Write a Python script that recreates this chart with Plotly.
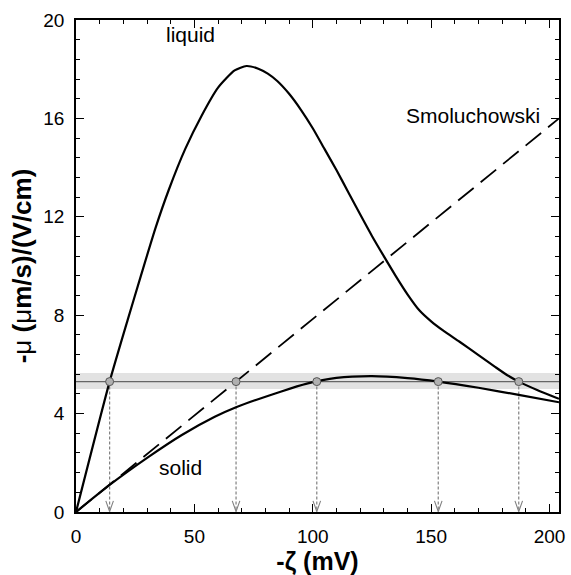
import plotly.graph_objects as go

# ---- data ----
liquid_x = [0, 14.2, 21.8, 27.4, 33.6, 39.2, 46.1, 53.0, 60.0, 67.0, 72.0, 77.0, 81.0, 85.0,
            90.0, 95.0, 100.0, 105.0, 110.0, 115.0, 120.0, 125.0, 130.0, 135.0, 140.0,
            145.0, 150.0, 155.0, 162.0, 170.0, 177.0, 182.0, 187.0, 195.0, 204.0]
liquid_y = [0, 5.3, 7.8, 9.6, 11.55, 13.1, 14.75, 16.1, 17.25, 17.95, 18.13, 18.02, 17.82, 17.52,
            17.0, 16.35, 15.6, 14.75, 13.9, 13.0, 12.1, 11.22, 10.4, 9.6, 8.85,
            8.2, 7.75, 7.38, 6.92, 6.38, 5.9, 5.57, 5.3, 4.95, 4.6]

solid_x = [0, 14.2, 30.8, 44.7, 58.6, 67.6, 86.4, 97.5, 110, 125, 140, 153, 170, 187, 204]
solid_y = [0, 1.10, 2.25, 3.13, 3.87, 4.26, 4.89, 5.22, 5.45, 5.52, 5.44, 5.30, 5.05, 4.76, 4.46]

smol_x = [0, 204]
smol_y = [0, 16.0]

level = 5.3
band_low, band_high = 5.0, 5.65
cross_x = [14.2, 67.6, 101.7, 153.0, 187.0]

x_range = [0, 204]
y_range = [0, 20]

FONT = "Liberation Sans, Arial, Helvetica, sans-serif"

fig = go.Figure()

# grey band and level line
fig.add_shape(type="rect", xref="x", yref="y", x0=x_range[0], x1=x_range[1],
              y0=band_low, y1=band_high, fillcolor="rgba(160,160,160,0.30)",
              line_width=0, layer="below")
fig.add_trace(go.Scatter(x=x_range, y=[level, level], mode="lines",
                         line=dict(color="#666666", width=1.4), hoverinfo="skip",
                         showlegend=False))

# vertical drop lines with open arrowheads
for cx in cross_x:
    fig.add_trace(go.Scatter(x=[cx, cx], y=[level, 0], mode="lines",
                             line=dict(color="#808080", width=1.2, dash="3px,2px"),
                             hoverinfo="skip", showlegend=False))
    fig.add_trace(go.Scatter(x=[cx - 1.6, cx, cx + 1.6], y=[0.45, 0.02, 0.45], mode="lines",
                             line=dict(color="#808080", width=1.1),
                             hoverinfo="skip", showlegend=False))

# curves
fig.add_trace(go.Scatter(x=smol_x, y=smol_y, mode="lines",
                         line=dict(color="black", width=1.8, dash="20px,9px"),
                         showlegend=False))
fig.add_trace(go.Scatter(x=liquid_x, y=liquid_y, mode="lines", line_shape="spline",
                         line=dict(color="black", width=2.2, smoothing=0.6),
                         showlegend=False))
fig.add_trace(go.Scatter(x=solid_x, y=solid_y, mode="lines", line_shape="spline",
                         line=dict(color="black", width=2.2, smoothing=0.6),
                         showlegend=False))

# intersection markers
fig.add_trace(go.Scatter(x=cross_x, y=[level] * len(cross_x), mode="markers",
                         marker=dict(symbol="circle", size=8, color="#b0b0b0",
                                     line=dict(color="#555555", width=1)),
                         showlegend=False))

# curve labels
lab_font = dict(family=FONT, size=21, color="black")
fig.add_annotation(x=48.5, y=19.4, text="liquid", showarrow=False, font=lab_font)
fig.add_annotation(x=197, y=16.1, text="Smoluchowski", showarrow=False,
                   xanchor="right", font=lab_font)
fig.add_annotation(x=44, y=1.8, text="solid", showarrow=False, font=lab_font)

axis_common = dict(showgrid=False, zeroline=False, showline=True, linecolor="black",
                   linewidth=1.5, mirror="ticks", ticks="inside", ticklen=8,
                   tickwidth=1.3, tickcolor="black",
                   tickfont=dict(family=FONT, size=19, color="black"))

fig.update_xaxes(range=x_range, tickmode="array", tickvals=[0, 50, 100, 150, 200],
                 ticklabelstandoff=6,
                 minor=dict(dtick=10, ticks="inside", ticklen=4, tickcolor="black", tickwidth=1),
                 title=dict(text="<b>-ζ (mV)</b>", font=dict(family=FONT, size=25, color="black"),
                            standoff=4),
                 **axis_common)
fig.update_yaxes(range=y_range, tickmode="array", tickvals=[0, 4, 8, 12, 16, 20],
                 ticklabelstandoff=6,
                 minor=dict(dtick=0.8, ticks="inside", ticklen=4, tickcolor="black", tickwidth=1),
                 title=dict(text="<b>-</b>μ<b> (</b>μ<b>m/s)/(V/cm)</b>",
                            font=dict(family=FONT, size=26, color="black"), standoff=4),
                 **axis_common)

fig.update_layout(width=571, height=575, margin=dict(l=76, r=6, t=20, b=63),
                  plot_bgcolor="white", paper_bgcolor="white")

fig.write_html("out.html")
